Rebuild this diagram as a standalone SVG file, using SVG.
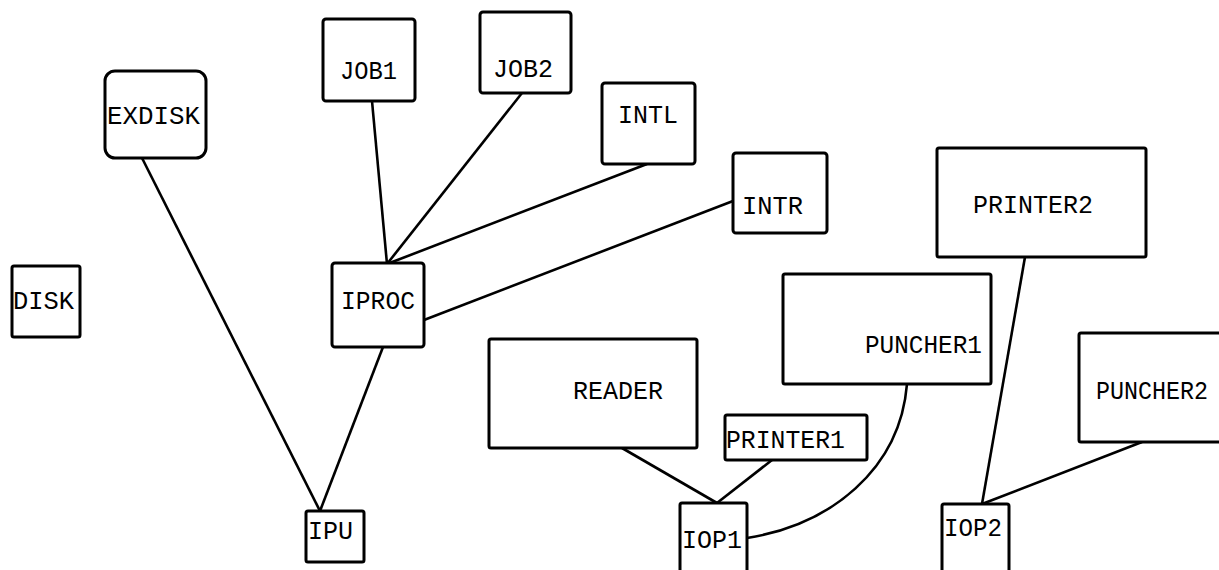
<svg xmlns="http://www.w3.org/2000/svg" width="1219" height="570" viewBox="0 0 1219 570">
<style>
.box{fill:#fff;stroke:#000;stroke-width:3}
.lbl{font-family:"Liberation Mono","Courier New",monospace;font-size:26px;fill:#000}
.edge{fill:none;stroke:#000;stroke-width:2.6}
</style>
<rect width="1219" height="570" fill="#fff"/>
<g id="connectors">
<line class="edge" x1="142" y1="158" x2="320" y2="511"/>
<line class="edge" x1="383" y1="347" x2="320" y2="511"/>
<line class="edge" x1="372" y1="101" x2="387" y2="264"/>
<line class="edge" x1="522" y1="93" x2="387" y2="264"/>
<line class="edge" x1="647" y1="164" x2="387" y2="264"/>
<line class="edge" x1="733" y1="201" x2="424" y2="320"/>
<line class="edge" x1="622" y1="448" x2="717" y2="503"/>
<line class="edge" x1="772" y1="460" x2="717" y2="503"/>
<path class="edge" d="M747,538 C830,525 900,470 907,384"/>
<line class="edge" x1="1025" y1="257" x2="982" y2="504"/>
<line class="edge" x1="1142" y1="442" x2="982" y2="504"/>
</g>
<g id="EXDISK"><rect class="box" x="105" y="71" width="101" height="87" rx="10"/><text class="lbl" x="107" y="124" textLength="93" lengthAdjust="spacingAndGlyphs">EXDISK</text></g>
<g id="JOB1"><rect class="box" x="323" y="19" width="92" height="82" rx="3"/><text class="lbl" x="340" y="79" textLength="57" lengthAdjust="spacingAndGlyphs">JOB1</text></g>
<g id="JOB2"><rect class="box" x="480" y="12" width="91" height="81" rx="3"/><text class="lbl" x="493" y="77" textLength="60" lengthAdjust="spacingAndGlyphs">JOB2</text></g>
<g id="INTL"><rect class="box" x="602" y="83" width="93" height="81" rx="3"/><text class="lbl" x="618" y="123" textLength="60" lengthAdjust="spacingAndGlyphs">INTL</text></g>
<g id="INTR"><rect class="box" x="733" y="153" width="94" height="80" rx="3"/><text class="lbl" x="742" y="214" textLength="61" lengthAdjust="spacingAndGlyphs">INTR</text></g>
<g id="PRINTER2"><rect class="box" x="937" y="148" width="209" height="109" rx="2"/><text class="lbl" x="973" y="213" textLength="120" lengthAdjust="spacingAndGlyphs">PRINTER2</text></g>
<g id="DISK"><rect class="box" x="12" y="266" width="68" height="71" rx="2"/><text class="lbl" x="13" y="309" textLength="61" lengthAdjust="spacingAndGlyphs">DISK</text></g>
<g id="IPROC"><rect class="box" x="332" y="263" width="92" height="84" rx="3"/><text class="lbl" x="341" y="309" textLength="74" lengthAdjust="spacingAndGlyphs">IPROC</text></g>
<g id="PUNCHER1"><rect class="box" x="783" y="274" width="208" height="110" rx="2"/><text class="lbl" x="865" y="353" textLength="117" lengthAdjust="spacingAndGlyphs">PUNCHER1</text></g>
<g id="READER"><rect class="box" x="489" y="339" width="208" height="109" rx="2"/><text class="lbl" x="573" y="399" textLength="90" lengthAdjust="spacingAndGlyphs">READER</text></g>
<g id="PRINTER1"><rect class="box" x="725" y="415" width="142" height="45" rx="2"/><text class="lbl" x="726" y="448" textLength="119" lengthAdjust="spacingAndGlyphs">PRINTER1</text></g>
<g id="PUNCHER2"><rect class="box" x="1079" y="333" width="160" height="109" rx="2"/><text class="lbl" x="1096" y="399" textLength="112" lengthAdjust="spacingAndGlyphs">PUNCHER2</text></g>
<g id="IPU"><rect class="box" x="306" y="511" width="58" height="51" rx="2"/><text class="lbl" x="308" y="539" textLength="45" lengthAdjust="spacingAndGlyphs">IPU</text></g>
<g id="IOP1"><rect class="box" x="680" y="503" width="67" height="80" rx="2"/><text class="lbl" x="682" y="548" textLength="60" lengthAdjust="spacingAndGlyphs">IOP1</text></g>
<g id="IOP2"><rect class="box" x="942" y="504" width="67" height="80" rx="2"/><text class="lbl" x="944" y="536" textLength="58" lengthAdjust="spacingAndGlyphs">IOP2</text></g>
</svg>
